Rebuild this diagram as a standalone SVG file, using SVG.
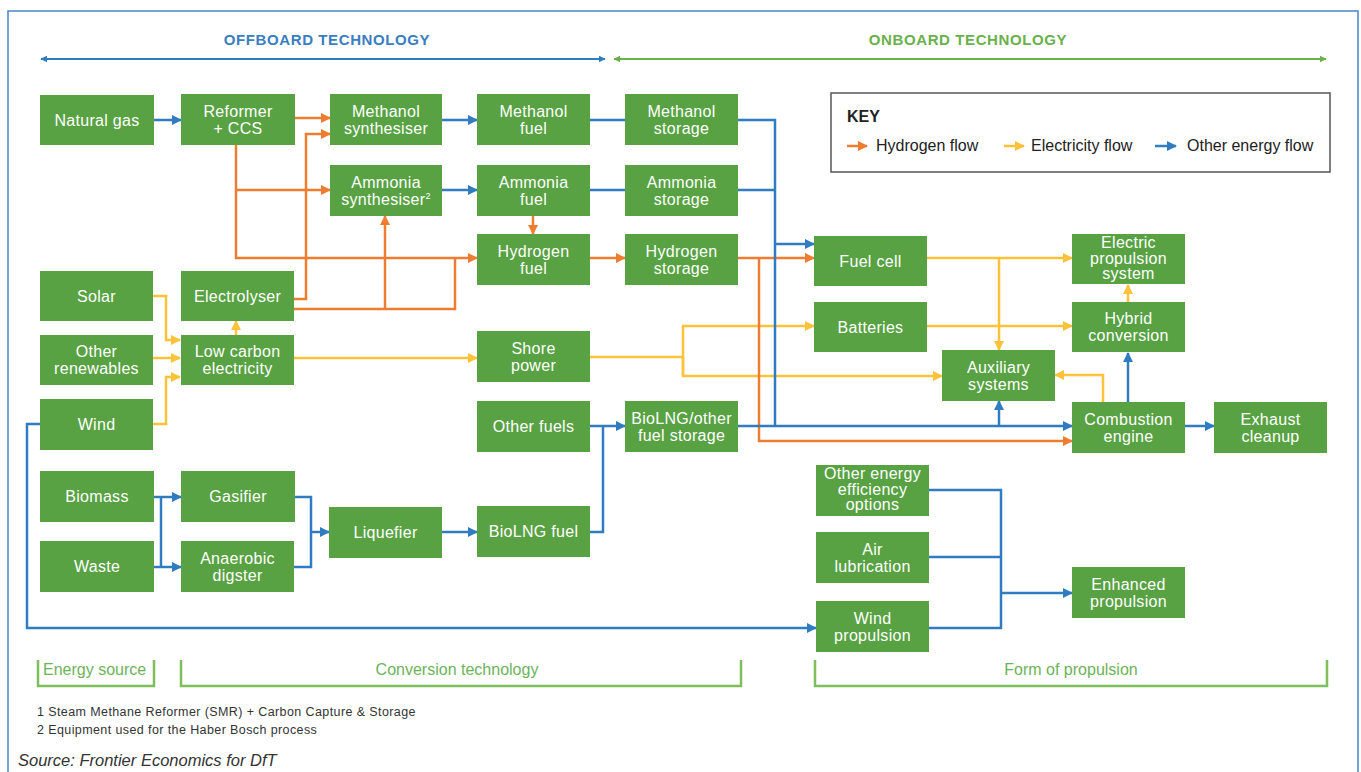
<svg xmlns="http://www.w3.org/2000/svg" width="1361" height="772" viewBox="0 0 1361 772">
<defs>
<style>
.n rect{fill:#58a243;}
.n text{fill:#fff;font-family:"Liberation Sans",Arial,sans-serif;font-size:16px;text-anchor:middle;letter-spacing:0.3px;}
.c path{fill:none;stroke-width:2.5;stroke-linejoin:miter;}
.b{stroke:#2f7cc0;}
.o{stroke:#ee7d31;}
.y{stroke:#fbc23a;}
.bl{fill:none;stroke:#7cbf5b;stroke-width:2.5;}
.lbl{font-family:"Liberation Sans",Arial,sans-serif;font-size:16px;fill:#6db35a;}
.foot{font-family:"Liberation Sans",Arial,sans-serif;font-size:12.5px;fill:#333;letter-spacing:0.4px;}
.key{font-family:"Liberation Sans",Arial,sans-serif;font-size:16px;fill:#222;}
</style>
<marker id="ab" viewBox="0 0 10 10" refX="9" refY="5" markerWidth="10" markerHeight="10" markerUnits="userSpaceOnUse" orient="auto"><path d="M0,0 L10,5 L0,10 z" fill="#2f7cc0"/></marker>
<marker id="ao" viewBox="0 0 10 10" refX="9" refY="5" markerWidth="10" markerHeight="10" markerUnits="userSpaceOnUse" orient="auto"><path d="M0,0 L10,5 L0,10 z" fill="#ee7d31"/></marker>
<marker id="ay" viewBox="0 0 10 10" refX="9" refY="5" markerWidth="10" markerHeight="10" markerUnits="userSpaceOnUse" orient="auto"><path d="M0,0 L10,5 L0,10 z" fill="#fbc23a"/></marker>
<marker id="tb" viewBox="0 0 10 10" refX="9" refY="5" markerWidth="7" markerHeight="7" markerUnits="userSpaceOnUse" orient="auto-start-reverse"><path d="M0,0 L10,5 L0,10 z" fill="#2f7cc0"/></marker>
<marker id="tg" viewBox="0 0 10 10" refX="9" refY="5" markerWidth="7" markerHeight="7" markerUnits="userSpaceOnUse" orient="auto-start-reverse"><path d="M0,0 L10,5 L0,10 z" fill="#6ab04c"/></marker>
</defs>
<rect x="0" y="0" width="1361" height="772" fill="#fff"/>
<path d="M8,772 V11 H1358 V772" fill="none" stroke="#4a86c8" stroke-width="1.5"/>

<g id="headers">
<text x="327" y="45" text-anchor="middle" font-family="Liberation Sans,Arial,sans-serif" font-size="15" font-weight="bold" fill="#3a7dc0" letter-spacing="0.6">OFFBOARD TECHNOLOGY</text>
<path d="M41,59 H605" stroke="#2f7cc0" stroke-width="2" marker-start="url(#tb)" marker-end="url(#tb)"/>
<text x="968" y="45" text-anchor="middle" font-family="Liberation Sans,Arial,sans-serif" font-size="15" font-weight="bold" fill="#6ab04c" letter-spacing="0.6">ONBOARD TECHNOLOGY</text>
<path d="M614,59 H1326" stroke="#6ab04c" stroke-width="2" marker-start="url(#tg)" marker-end="url(#tg)"/>
</g>

<g id="key">
<rect x="831" y="93" width="499" height="79" fill="#fff" stroke="#555" stroke-width="1.5"/>
<text x="847" y="122" class="key" font-size="15" font-weight="bold">KEY</text>
<path d="M847,146 H867" stroke="#ee7d31" stroke-width="2.5" marker-end="url(#ao)"/>
<text x="876" y="151" class="key">Hydrogen flow</text>
<path d="M1004,146 H1024" stroke="#fbc23a" stroke-width="2.5" marker-end="url(#ay)"/>
<text x="1031" y="151" class="key">Electricity flow</text>
<path d="M1155,146 H1176" stroke="#2f7cc0" stroke-width="2.5" marker-end="url(#ab)"/>
<text x="1187" y="151" class="key">Other energy flow</text>
</g>

<g id="connectors" class="c">
<!-- yellow -->
<path class="y" d="M153,296 H166 V340 H180" marker-end="url(#ay)"/>
<path class="y" d="M153,358 H180" marker-end="url(#ay)"/>
<path class="y" d="M153,424 H166 V377 H180" marker-end="url(#ay)"/>
<path class="y" d="M236,335 V321" marker-end="url(#ay)"/>
<path class="y" d="M294,358 H477" marker-end="url(#ay)"/>
<path class="y" d="M590,357 H683"/>
<path class="y" d="M683,376 V326 H814" marker-end="url(#ay)"/>
<path class="y" d="M683,357 V376 H942" marker-end="url(#ay)"/>
<path class="y" d="M927,258 H1072" marker-end="url(#ay)"/>
<path class="y" d="M999,258 V350" marker-end="url(#ay)"/>
<path class="y" d="M927,326 H1072" marker-end="url(#ay)"/>
<path class="y" d="M1128,302 V285" marker-end="url(#ay)"/>
<path class="y" d="M1103,402 V375 H1055" marker-end="url(#ay)"/>
<!-- orange -->
<path class="o" d="M295,118 H330" marker-end="url(#ao)"/>
<path class="o" d="M236,145 V258 H477" marker-end="url(#ao)"/>
<path class="o" d="M236,190 H330" marker-end="url(#ao)"/>
<path class="o" d="M294,299 H306 V134 H330" marker-end="url(#ao)"/>
<path class="o" d="M294,309 H455 V258"/>
<path class="o" d="M385,309 V216" marker-end="url(#ao)"/>
<path class="o" d="M533,216 V234" marker-end="url(#ao)"/>
<path class="o" d="M590,258 H625" marker-end="url(#ao)"/>
<path class="o" d="M738,258 H814" marker-end="url(#ao)"/>
<path class="o" d="M759,258 V441 H1072" marker-end="url(#ao)"/>
<!-- blue -->
<path class="b" d="M154,120 H181" marker-end="url(#ab)"/>
<path class="b" d="M442,120 H477" marker-end="url(#ab)"/>
<path class="b" d="M590,120 H625"/>
<path class="b" d="M442,190 H477" marker-end="url(#ab)"/>
<path class="b" d="M590,190 H625"/>
<path class="b" d="M738,120 H775 V426"/>
<path class="b" d="M738,190 H775"/>
<path class="b" d="M775,244 H814" marker-end="url(#ab)"/>
<path class="b" d="M738,426 H1072" marker-end="url(#ab)"/>
<path class="b" d="M999,426 V401" marker-end="url(#ab)"/>
<path class="b" d="M590,426 H625" marker-end="url(#ab)"/>
<path class="b" d="M590,532 H603 V426"/>
<path class="b" d="M154,497 H181" marker-end="url(#ab)"/>
<path class="b" d="M154,567 H181" marker-end="url(#ab)"/>
<path class="b" d="M161,497 V567"/>
<path class="b" d="M295,497 H311 V567 H294"/>
<path class="b" d="M311,532 H329" marker-end="url(#ab)"/>
<path class="b" d="M442,532 H477" marker-end="url(#ab)"/>
<path class="b" d="M40,424 H27 V628 H816" marker-end="url(#ab)"/>
<path class="b" d="M1185,426 H1214" marker-end="url(#ab)"/>
<path class="b" d="M1128,402 V353" marker-end="url(#ab)"/>
<path class="b" d="M929,490 H1001 V628 H929"/>
<path class="b" d="M929,557 H1001"/>
<path class="b" d="M1001,593 H1072" marker-end="url(#ab)"/>
</g>

<g id="natural-gas" class="n"><rect x="40" y="95" width="114" height="50"/><text x="97" y="125.5">Natural gas</text></g>
<g id="reformer" class="n"><rect x="181" y="94" width="114" height="51"/><text x="238" y="116.5">Reformer</text><text x="238" y="133.5">+ CCS</text></g>
<g id="methanol-synthesiser" class="n"><rect x="330" y="94" width="112" height="51"/><text x="386" y="116.5">Methanol</text><text x="386" y="133.5">synthesiser</text></g>
<g id="methanol-fuel" class="n"><rect x="477" y="94" width="113" height="51"/><text x="533.5" y="116.5">Methanol</text><text x="533.5" y="133.5">fuel</text></g>
<g id="methanol-storage" class="n"><rect x="625" y="94" width="113" height="51"/><text x="681.5" y="116.5">Methanol</text><text x="681.5" y="133.5">storage</text></g>
<g id="ammonia-synthesiser" class="n"><rect x="330" y="165" width="112" height="51"/><text x="386" y="187.5">Ammonia</text><text x="386" y="204.5">synthesiser<tspan font-size="9" dy="-6">2</tspan></text></g>
<g id="ammonia-fuel" class="n"><rect x="477" y="165" width="113" height="51"/><text x="533.5" y="187.5">Ammonia</text><text x="533.5" y="204.5">fuel</text></g>
<g id="ammonia-storage" class="n"><rect x="625" y="165" width="113" height="51"/><text x="681.5" y="187.5">Ammonia</text><text x="681.5" y="204.5">storage</text></g>
<g id="hydrogen-fuel" class="n"><rect x="477" y="234" width="113" height="51"/><text x="533.5" y="256.5">Hydrogen</text><text x="533.5" y="273.5">fuel</text></g>
<g id="hydrogen-storage" class="n"><rect x="625" y="234" width="113" height="51"/><text x="681.5" y="256.5">Hydrogen</text><text x="681.5" y="273.5">storage</text></g>
<g id="fuel-cell" class="n"><rect x="814" y="236" width="113" height="50"/><text x="870.5" y="266.5">Fuel cell</text></g>
<g id="electric-propulsion" class="n"><rect x="1072" y="234" width="113" height="50"/><text x="1128.5" y="248" font-size="15">Electric</text><text x="1128.5" y="263.5" font-size="15">propulsion</text><text x="1128.5" y="279" font-size="15">system</text></g>
<g id="solar" class="n"><rect x="40" y="271" width="113" height="50"/><text x="96.5" y="301.5">Solar</text></g>
<g id="electrolyser" class="n"><rect x="181" y="271" width="113" height="50"/><text x="237.5" y="301.5">Electrolyser</text></g>
<g id="batteries" class="n"><rect x="814" y="302" width="113" height="50"/><text x="870.5" y="332.5">Batteries</text></g>
<g id="hybrid-conversion" class="n"><rect x="1072" y="302" width="113" height="50"/><text x="1128.5" y="324">Hybrid</text><text x="1128.5" y="341">conversion</text></g>
<g id="other-renewables" class="n"><rect x="40" y="335" width="113" height="50"/><text x="96.5" y="357">Other</text><text x="96.5" y="374">renewables</text></g>
<g id="low-carbon-electricity" class="n"><rect x="181" y="335" width="113" height="50"/><text x="237.5" y="357">Low carbon</text><text x="237.5" y="374">electricity</text></g>
<g id="shore-power" class="n"><rect x="477" y="331" width="113" height="51"/><text x="533.5" y="353.5">Shore</text><text x="533.5" y="370.5">power</text></g>
<g id="auxiliary-systems" class="n"><rect x="942" y="350" width="113" height="51"/><text x="998.5" y="372.5">Auxiliary</text><text x="998.5" y="389.5">systems</text></g>
<g id="wind" class="n"><rect x="40" y="399" width="113" height="51"/><text x="96.5" y="430">Wind</text></g>
<g id="other-fuels" class="n"><rect x="477" y="401" width="113" height="51"/><text x="533.5" y="432">Other fuels</text></g>
<g id="biolng-storage" class="n"><rect x="625" y="401" width="113" height="51"/><text x="681.5" y="423.5">BioLNG/other</text><text x="681.5" y="440.5">fuel storage</text></g>
<g id="combustion-engine" class="n"><rect x="1072" y="402" width="113" height="51"/><text x="1128.5" y="424.5">Combustion</text><text x="1128.5" y="441.5">engine</text></g>
<g id="exhaust-cleanup" class="n"><rect x="1214" y="402" width="113" height="51"/><text x="1270.5" y="424.5">Exhaust</text><text x="1270.5" y="441.5">cleanup</text></g>
<g id="biomass" class="n"><rect x="40" y="471" width="114" height="51"/><text x="97" y="502">Biomass</text></g>
<g id="gasifier" class="n"><rect x="181" y="471" width="114" height="51"/><text x="238" y="502">Gasifier</text></g>
<g id="liquefier" class="n"><rect x="329" y="507" width="113" height="51"/><text x="385.5" y="538">Liquefier</text></g>
<g id="biolng-fuel" class="n"><rect x="477" y="506" width="113" height="51"/><text x="533.5" y="537">BioLNG fuel</text></g>
<g id="waste" class="n"><rect x="40" y="541" width="114" height="51"/><text x="97" y="572">Waste</text></g>
<g id="anaerobic-digster" class="n"><rect x="181" y="541" width="113" height="51"/><text x="237.5" y="563.5">Anaerobic</text><text x="237.5" y="580.5">digster</text></g>
<g id="other-energy-efficiency" class="n"><rect x="816" y="465" width="113" height="51"/><text x="872.5" y="479" font-size="15">Other energy</text><text x="872.5" y="494.5" font-size="15">efficiency</text><text x="872.5" y="510" font-size="15">options</text></g>
<g id="air-lubrication" class="n"><rect x="816" y="532" width="113" height="51"/><text x="872.5" y="554.5">Air</text><text x="872.5" y="571.5">lubrication</text></g>
<g id="wind-propulsion" class="n"><rect x="816" y="601" width="113" height="51"/><text x="872.5" y="623.5">Wind</text><text x="872.5" y="640.5">propulsion</text></g>
<g id="enhanced-propulsion" class="n"><rect x="1072" y="567" width="113" height="51"/><text x="1128.5" y="589.5">Enhanced</text><text x="1128.5" y="606.5">propulsion</text></g>

<g id="brackets">
<path class="bl" d="M38,660 V686 H154 V660"/>
<text x="43" y="675" class="lbl">Energy source</text>
<path class="bl" d="M181,660 V686 H741 V660"/>
<text x="457" y="675" class="lbl" text-anchor="middle">Conversion technology</text>
<path class="bl" d="M815,660 V686 H1327 V660"/>
<text x="1071" y="675" class="lbl" text-anchor="middle">Form of propulsion</text>
</g>

<g id="notes">
<text x="37" y="716" class="foot">1 Steam Methane Reformer (SMR) + Carbon Capture &amp; Storage</text>
<text x="37" y="734" class="foot">2 Equipment used for the Haber Bosch process</text>
<text x="18" y="766" font-family="Liberation Sans,Arial,sans-serif" font-size="16.5" font-style="italic" fill="#333">Source: Frontier Economics for DfT</text>
</g>
</svg>
